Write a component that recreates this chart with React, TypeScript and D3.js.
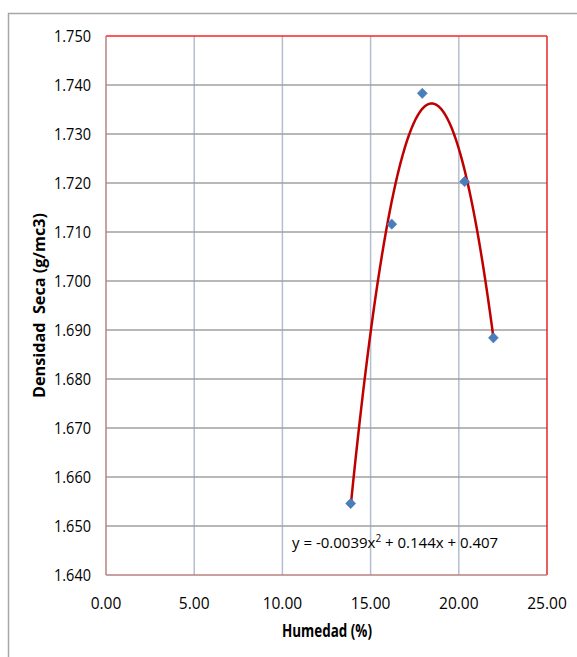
import React from "react";
import * as d3 from "d3";

const humedad = [13.87, 16.2, 17.93, 20.33, 21.96];
const densidad = [1.6546, 1.7116, 1.7383, 1.7203, 1.6884];
const xTicks = [0, 5, 10, 15, 20, 25];
const yTicks = [1.64, 1.65, 1.66, 1.67, 1.68, 1.69, 1.7, 1.71, 1.72, 1.73, 1.74, 1.75];
const trendCoef = [-0.0039, 0.144, 0.407];
const xTitle = "Humedad (%)";
const yTitle = "Densidad  Seca (g/mc3)";

const W = 577;
const H = 657;
const L = 106, R = 547, T = 36, B = 575;
const FONT = "'Open Sans', 'Noto Sans', sans-serif";

export default function App() {
  const x = d3.scaleLinear().domain([0, 25]).range([L, R]);
  const y = d3.scaleLinear().domain([1.64, 1.75]).range([B, T]);
  const f = (v: number) => trendCoef[0] * v * v + trendCoef[1] * v + trendCoef[2];
  const x0 = d3.min(humedad)!;
  const x1 = d3.max(humedad)!;
  const samples = d3.range(0, 201).map((i) => x0 + ((x1 - x0) * i) / 200);
  const line = d3
    .line<number>()
    .x((d) => x(d))
    .y((d) => y(f(d)))
    .curve(d3.curveLinear);
  const diamond = "M0,-5.2L5,0L0,5.2L-5,0Z";

  return (
    <svg
      width={W}
      height={H}
      style={{ position: "fixed", left: 0, top: 0, background: "#fff" }}
      fontFamily={FONT}
    >
      <rect x={0} y={0} width={W} height={H} fill="#fff" />
      {/* outer frame */}
      <rect x={8.5} y={13.5} width={W + 20} height={H + 20} fill="none" stroke="#a6a6a6" strokeWidth={1.5} />
      {/* vertical gridlines */}
      {xTicks.slice(1, -1).map((t) => (
        <line key={"vx" + t} x1={x(t)} x2={x(t)} y1={T} y2={B} stroke="#b3bfd0" strokeWidth={1.5} />
      ))}
      {/* horizontal gridlines */}
      {yTicks.slice(1, -1).map((t) => (
        <line key={"hy" + t} x1={L} x2={R} y1={y(t)} y2={y(t)} stroke="#a0a0a0" strokeWidth={1.5} />
      ))}
      {/* plot border */}
      <line x1={L} x2={R} y1={T} y2={T} stroke="#ff2020" strokeWidth={1.5} />
      <line x1={R} x2={R} y1={T} y2={B} stroke="#e02828" strokeWidth={1.5} />
      <line x1={L} x2={L} y1={T} y2={B} stroke="#b88080" strokeWidth={1.5} />
      <line x1={L} x2={R} y1={B} y2={B} stroke="#b88080" strokeWidth={1.5} />
      {/* y tick labels */}
      {yTicks.map((t) => (
        <text key={"yl" + t} x={91} y={y(t) + 5.5} textAnchor="end" fontSize={15.5} fill="#000" textLength={37} lengthAdjust="spacingAndGlyphs">
          {t.toFixed(3)}
        </text>
      ))}
      {/* x tick labels */}
      {xTicks.map((t) => (
        <text key={"xl" + t} x={x(t)} y={608.5} textAnchor="middle" fontSize={15.5} fill="#000">
          {t.toFixed(2)}
        </text>
      ))}
      {/* trend line */}
      <path d={line(samples) || ""} fill="none" stroke="#c00000" strokeWidth={2.5} />
      {/* markers */}
      {humedad.map((h, i) => (
        <path key={"m" + i} d={diamond} transform={`translate(${x(h)},${y(densidad[i])})`} fill="#4a7ebb" stroke="#3d6fae" strokeWidth={0.5} />
      ))}
      {/* equation */}
      <text x={292} y={548} fontSize={15} fill="#000">
        y = -0.0039x
        <tspan dy={-6} fontSize={10}>2</tspan>
        <tspan dy={6}> + 0.144x + 0.407</tspan>
      </text>
      {/* axis titles */}
      <text x={327} y={637} textAnchor="middle" fontSize={17} fontWeight="bold" fill="#000" textLength={90} lengthAdjust="spacingAndGlyphs">
        {xTitle}
      </text>
      <text
        transform={`translate(45,${(T + B) / 2}) rotate(-90)`}
        textAnchor="middle"
        fontSize={16}
        fontWeight="bold"
        fill="#000"
        textLength={185}
        lengthAdjust="spacingAndGlyphs"
        style={{ whiteSpace: "pre" }}
      >
        {yTitle}
      </text>
    </svg>
  );
}
